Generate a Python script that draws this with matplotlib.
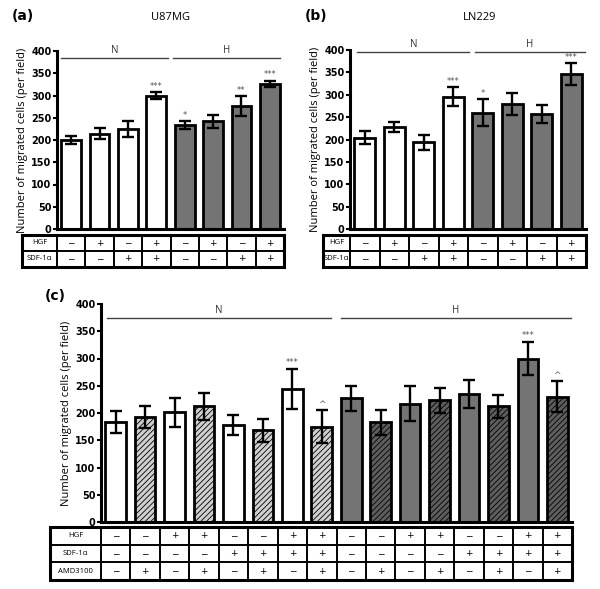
import matplotlib
matplotlib.use("Agg")
import matplotlib.pyplot as plt
from matplotlib.patches import Rectangle

plt.rcParams['hatch.linewidth'] = 0.6

W, H = 600, 589

# ---------------- data ----------------
a_vals = [200, 214, 224, 300, 234, 242, 276, 326]
a_err = [10, 12, 18, 7, 9, 14, 22, 7]
a_marks = ["", "", "", "***", "*", "", "**", "***"]
a_hgf = ["−", "+", "−", "+", "−", "+", "−", "+"]
a_sdf = ["−", "−", "+", "+", "−", "−", "+", "+"]

b_vals = [204, 228, 194, 296, 260, 279, 257, 346]
b_err = [14, 11, 17, 21, 30, 25, 21, 25]
b_marks = ["", "", "", "***", "*", "", "", "***"]
b_hgf = ["−", "+", "−", "+", "−", "+", "−", "+"]
b_sdf = ["−", "−", "+", "+", "−", "−", "+", "+"]

c_vals = [184, 193, 201, 212, 178, 168, 244, 175, 227, 183, 217, 223, 235, 212, 300, 230]
c_err = [20, 20, 26, 25, 18, 21, 37, 30, 23, 23, 32, 23, 25, 21, 31, 28]
c_marks = ["", "", "", "", "", "", "***", "^", "", "", "", "", "", "", "***", "^"]
c_hgf = ["−", "−", "+", "+", "−", "−", "+", "+", "−", "−", "+", "+", "−", "−", "+", "+"]
c_sdf = ["−", "−", "−", "−", "+", "+", "+", "+", "−", "−", "−", "−", "+", "+", "+", "+"]
c_amd = ["−", "+", "−", "+", "−", "+", "−", "+", "−", "+", "−", "+", "−", "+", "−", "+"]

ab_groups = ["N", "N", "N", "N", "H", "H", "H", "H"]
c_groups = ["N"] * 8 + ["H"] * 8

yticks = [0, 50, 100, 150, 200, 250, 300, 350, 400]
ylabel = "Number of migrated cells (per field)"

WHITE = "white"
LIGHT_H = "#d0d0d0"
DARK = "#747474"
DARK_H = "#5e5e5e"

fig = plt.figure(figsize=(6.0, 5.89), dpi=100)


def px_axes(l, r, t, b):
    return fig.add_axes([l / W, 1 - b / H, (r - l) / W, (b - t) / H])


def draw_panel(l, r, t, b, vals, errs, marks, groups, hatched, line_y, txt_y, line_spans):
    ax = px_axes(l, r, t, b)
    n = len(vals)
    x = list(range(n))
    faces = []
    hatches = []
    for i in range(n):
        h = hatched[i]
        if groups[i] == "N":
            faces.append(LIGHT_H if h else WHITE)
        else:
            faces.append(DARK_H if h else DARK)
        hatches.append("//////" if h else None)
    bars = ax.bar(x, vals, width=0.7, color=faces, edgecolor="black", linewidth=2.0, zorder=2)
    for bar, h in zip(bars, hatches):
        if h:
            bar.set_hatch(h)
    ax.errorbar(x, vals, yerr=errs, fmt="none", ecolor="black", elinewidth=1.7,
                capsize=4.5, capthick=1.7, zorder=3)
    for i in range(n):
        if marks[i]:
            m = marks[i]
            ax.text(x[i], vals[i] + errs[i] + 3, m, ha="center", va="bottom",
                    fontsize=6 if m != "^" else 6.5, color="#555555")
    ax.set_xlim(-0.5, n - 0.5)
    ax.set_ylim(0, 400)
    ax.set_yticks(yticks)
    ax.set_yticklabels([str(v) for v in yticks], fontsize=7, fontweight="bold",
                       family=["Liberation Sans Narrow", "DejaVu Sans"])
    ax.set_xticks([])
    for s in ["top", "right"]:
        ax.spines[s].set_visible(False)
    ax.spines["left"].set_linewidth(2.2)
    ax.spines["bottom"].set_linewidth(2.2)
    ax.tick_params(axis="y", length=3, width=1.5, pad=1)
    ax.set_ylabel(ylabel, fontsize=8, family=["Open Sans", "DejaVu Sans"], labelpad=2)
    for (x0, x1, lab) in line_spans:
        ax.plot([x0, x1], [line_y, line_y], color="#444444", linewidth=1.0, clip_on=False)
        ax.text((x0 + x1) / 2, txt_y, lab, ha="center", va="bottom", fontsize=7,
                family=["Open Sans", "DejaVu Sans"], color="#333333")
    return ax


def draw_table(l, r, t, b, axl, axr, rows, labels):
    n = len(rows[0])
    colw = (axr - axl) / n
    labw = (axl - l) / colw
    ax = px_axes(l, r, t, b)
    ax.set_xlim(-0.5 - labw, n - 0.5)
    nr = len(rows)
    ax.set_ylim(0, nr)
    ax.axis("off")
    for ri, (row, lab) in enumerate(zip(rows, labels)):
        y0 = nr - ri - 1
        ax.add_patch(Rectangle((-0.5 - labw, y0), labw, 1, fill=False, edgecolor="black",
                               linewidth=1.2, clip_on=False))
        ax.text(-0.5 - labw / 2, y0 + 0.5, lab, ha="center", va="center", fontsize=5.5,
                family=["Open Sans", "DejaVu Sans"])
        for ci, v in enumerate(row):
            ax.add_patch(Rectangle((ci - 0.5, y0), 1, 1, fill=False, edgecolor="black",
                                   linewidth=1.2, clip_on=False))
            ax.text(ci, y0 + 0.5, v, ha="center", va="center", fontsize=6.5,
                    family=["DejaVu Sans"])
    ax.add_patch(Rectangle((-0.5 - labw, 0), labw + n, nr, fill=False, edgecolor="black",
                           linewidth=2.2, clip_on=False))
    return ax


# Panel (a)
draw_panel(57, 284, 51, 229, a_vals, a_err, a_marks, ab_groups, [False] * 8,
           384, 389, [(-0.35, 3.4, "N"), (3.6, 7.35, "H")])
draw_table(22, 284, 235, 267, 57, 284, [a_hgf, a_sdf], ["HGF", "SDF-1α"])
fig.text(12 / W, 1 - 16 / H, "(a)", fontsize=10, fontweight="bold", va="center")
fig.text(170 / W, 1 - 17 / H, "U87MG", fontsize=8, va="center", ha="center",
         family=["Open Sans", "DejaVu Sans"])

# Panel (b)
draw_panel(350, 586, 50, 229, b_vals, b_err, b_marks, ab_groups, [False] * 8,
           396, 400, [(-0.25, 3.55, "N"), (3.75, 7.45, "H")])
draw_table(323, 586, 235, 267, 350, 586, [b_hgf, b_sdf], ["HGF", "SDF-1α"])
fig.text(305 / W, 1 - 16 / H, "(b)", fontsize=10, fontweight="bold", va="center")
fig.text(480 / W, 1 - 17 / H, "LN229", fontsize=8, va="center", ha="center",
         family=["Open Sans", "DejaVu Sans"])

# Panel (c)
c_hatched = [a == "+" for a in c_amd]
draw_panel(101, 572, 304, 522, c_vals, c_err, c_marks, c_groups, c_hatched,
           374, 378, [(-0.3, 7.3, "N"), (7.65, 15.45, "H")])
draw_table(50, 572, 527, 580, 101, 572, [c_hgf, c_sdf, c_amd], ["HGF", "SDF-1α", "AMD3100"])
fig.text(45 / W, 1 - 296 / H, "(c)", fontsize=10, fontweight="bold", va="center")

fig.savefig("out.png", dpi=100)
